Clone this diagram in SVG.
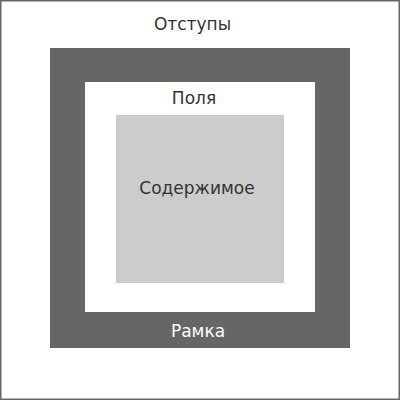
<svg xmlns="http://www.w3.org/2000/svg" width="400" height="400" viewBox="0 0 400 400">
<style>
text { font-family: "DejaVu Sans", "Noto Sans", sans-serif; font-size: 17px; text-anchor: middle; fill: #333; }
.light { fill: #fff; }
</style>
<rect x="0" y="0" width="400" height="400" fill="#fff"/>
<rect x="0.75" y="0.75" width="398.5" height="398.5" fill="none" stroke="#666" stroke-width="1.5"/>
<g id="margin">
<text x="192.5" y="30">Отступы</text>
</g>
<g id="border">
<rect x="50" y="48" width="300" height="300" fill="#666"/>
<text class="light" x="198" y="337">Рамка</text>
</g>
<g id="padding">
<rect x="85" y="82" width="230" height="230" fill="#fff"/>
<text x="194" y="104">Поля</text>
</g>
<g id="content">
<rect x="116" y="115" width="168" height="168" fill="#ccc"/>
<text x="197" y="193.5">Содержимое</text>
</g>
<g id="connectors"/>
</svg>
